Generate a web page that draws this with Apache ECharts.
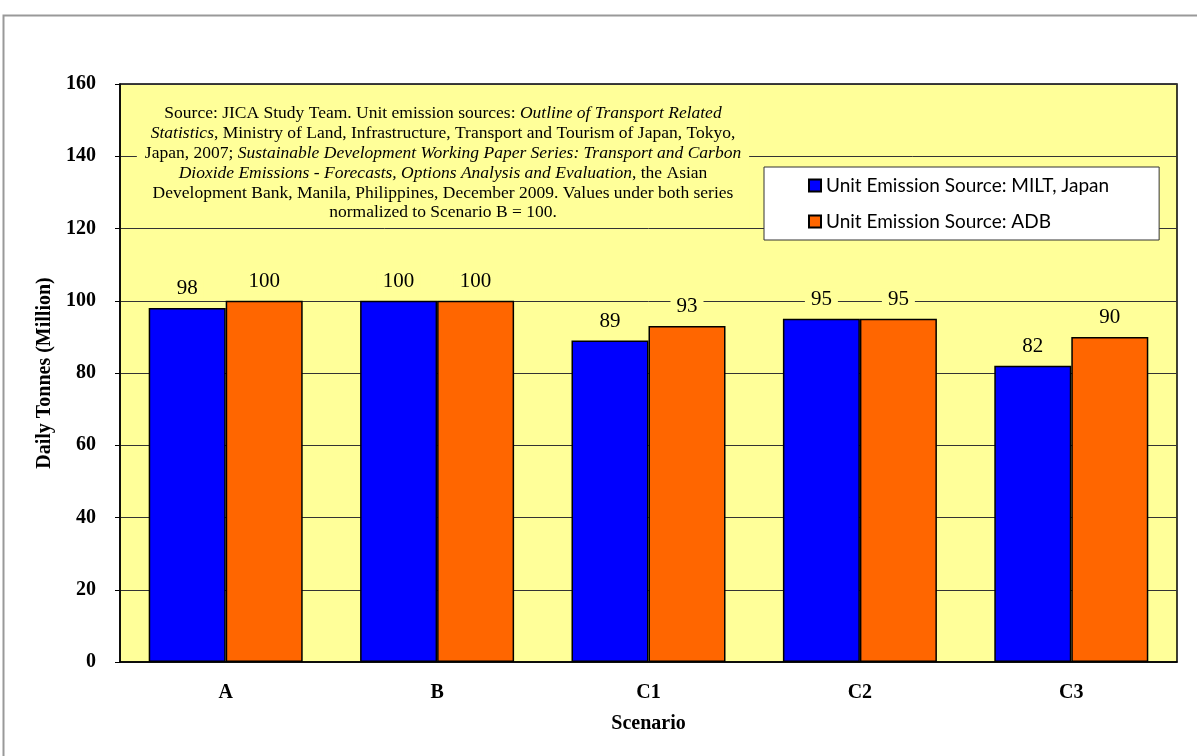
<!DOCTYPE html>
<html>
<head>
<meta charset="utf-8">
<script src="https://cdn.jsdelivr.net/npm/echarts@6/dist/echarts.min.js"></script>
<style>
  html, body { margin: 0; padding: 0; background: #ffffff; }
  #chart { width: 1197px; height: 756px; }
</style>
</head>
<body>
<div id="chart"></div>
<script>
// Scenario categories and daily emissions (normalized to Scenario B = 100)
const scenarios = ['A', 'B', 'C1', 'C2', 'C3'];
const miltValues = [98, 100, 89, 95, 82];
const adbValues = [100, 100, 93, 95, 90];
const seriesNames = ['Unit Emission Source: MILT, Japan', 'Unit Emission Source: ADB'];
const yTicks = { min: 0, max: 160, interval: 20 };

const serif = '"Liberation Serif", "DejaVu Serif", serif';
const plotBg = '#FFFF99';

const chart = echarts.init(document.getElementById('chart'));

function barLabel() {
  return {
    show: true,
    position: 'top',
    distance: 9,
    fontFamily: serif,
    fontSize: 21,
    color: '#000',
    backgroundColor: plotBg,
    padding: [0, 6]
  };
}

chart.setOption({
  animation: false,
  backgroundColor: '#ffffff',
  grid: {
    left: 120, right: 20, top: 84, bottom: 94,
    show: true,
    backgroundColor: plotBg,
    borderColor: '#000',
    borderWidth: 1.5
  },
  legend: {
    orient: 'vertical',
    left: 764,
    top: 167,
    backgroundColor: '#ffffff',
    borderColor: '#333',
    borderWidth: 1,
    padding: [9, 50, 9, 44],
    icon: 'rect',
    itemWidth: 12,
    itemHeight: 12,
    itemGap: 17,
    textStyle: { fontFamily: 'Lato, "Open Sans", sans-serif', fontSize: 19, color: '#000' },
    data: seriesNames
  },
  xAxis: {
    type: 'category',
    data: scenarios,
    name: 'Scenario',
    nameLocation: 'middle',
    nameGap: 52,
    nameTextStyle: { fontFamily: serif, fontSize: 20, fontWeight: 'bold', color: '#000' },
    axisLine: { show: true, lineStyle: { color: '#000', width: 1.5 } },
    axisTick: { show: false },
    axisLabel: { margin: 21, fontFamily: serif, fontSize: 20, fontWeight: 'bold', color: '#000' }
  },
  yAxis: {
    type: 'value',
    min: yTicks.min,
    max: yTicks.max,
    interval: yTicks.interval,
    name: 'Daily Tonnes (Million)',
    nameLocation: 'middle',
    nameGap: 65,
    nameTextStyle: { fontFamily: serif, fontSize: 20, fontWeight: 'bold', color: '#000' },
    axisLine: { show: true, lineStyle: { color: '#000', width: 1.5 } },
    axisTick: { show: true, inside: false, length: 5, lineStyle: { color: '#000' } },
    axisLabel: { margin: 24, fontFamily: serif, fontSize: 20, fontWeight: 'bold', color: '#000' },
    splitLine: { show: true, lineStyle: { color: '#333', width: 1 } }
  },
  series: [
    {
      name: seriesNames[0],
      type: 'bar',
      data: miltValues,
      barWidth: 77,
      barGap: '0%',
      itemStyle: { color: '#0000FF', borderColor: '#000', borderWidth: 1.5 },
      label: barLabel()
    },
    {
      name: seriesNames[1],
      type: 'bar',
      data: adbValues,
      barWidth: 77,
      barGap: '0%',
      itemStyle: { color: '#FF6600', borderColor: '#000', borderWidth: 1.5 },
      label: barLabel()
    }
  ],
  graphic: [
    {
      type: 'rect',
      z: -1,
      silent: true,
      shape: { x: 3.5, y: 15.5, width: 1220, height: 800 },
      style: { fill: 'none', stroke: '#999', lineWidth: 2 }
    },
    {
      type: 'text',
      z: 10,
      x: 443,
      y: 102,
      style: {
        text: [
          'Source: JICA Study Team. Unit emission sources: {i|Outline of Transport Related}',
          '{i|Statistics}, Ministry of Land, Infrastructure, Transport and Tourism of Japan, Tokyo,',
          'Japan, 2007; {i|Sustainable Development Working Paper Series: Transport and Carbon}',
          '{i|Dioxide Emissions - Forecasts, Options Analysis and Evaluation}, the Asian',
          'Development Bank, Manila, Philippines, December 2009. Values under both series',
          'normalized to Scenario B = 100.'
        ].join('\n'),
        align: 'center',
        verticalAlign: 'top',
        fontFamily: serif,
        fontSize: 17.5,
        lineHeight: 19.8,
        fill: '#000',
        backgroundColor: plotBg,
        padding: [2, 8],
        rich: {
          i: { fontStyle: 'italic', fontFamily: serif, fontSize: 17.5, lineHeight: 19.8 }
        }
      }
    }
  ]
});
</script>
</body>
</html>
